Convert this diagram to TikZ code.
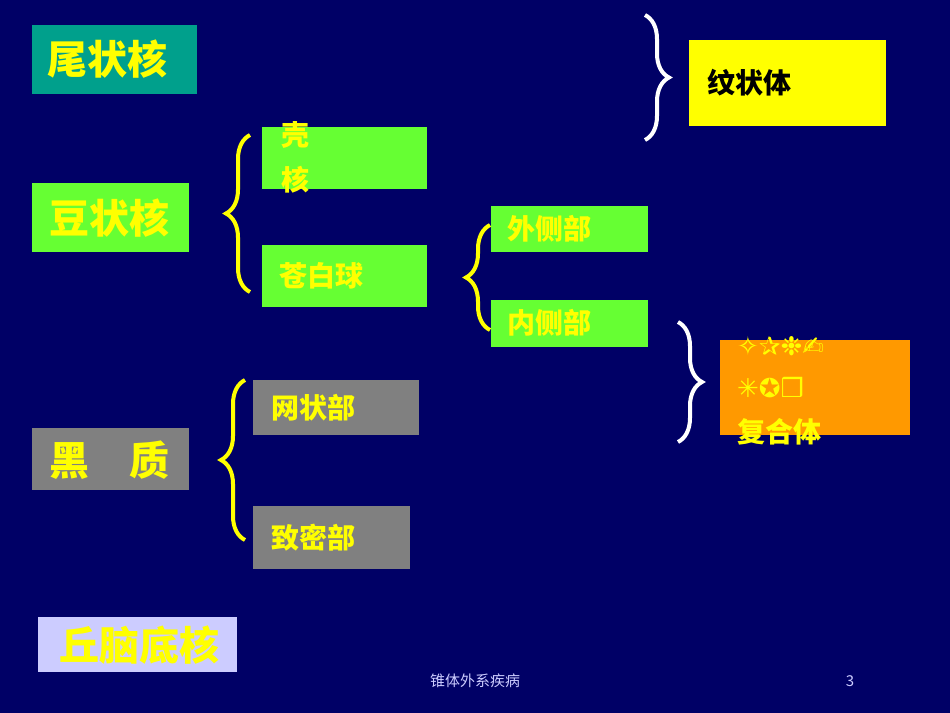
\documentclass[tikz,border=0pt]{standalone}
\usepackage{fontspec}
\setmainfont{Noto Sans CJK SC}
\newfontfamily\symfont{DejaVu Sans}
\usetikzlibrary{decorations.pathreplacing}
\definecolor{navy}{RGB}{0,0,102}
\definecolor{boxgreen}{RGB}{102,255,51}
\definecolor{boxteal}{RGB}{0,160,140}
\definecolor{boxgrey}{RGB}{128,128,128}
\definecolor{boxlav}{RGB}{204,204,255}
\definecolor{boxorange}{RGB}{255,153,0}
\definecolor{txtyellow}{RGB}{255,255,0}
\tikzset{
  cell/.style={anchor=north west, inner sep=0pt},
  big/.style={font=\fontsize{20}{22}\selectfont\bfseries, text=txtyellow},
  small/.style={font=\fontsize{14}{16}\selectfont\bfseries, text=txtyellow},
  ybrace/.style={draw=txtyellow, line width=2pt, decorate,
    decoration={brace, amplitude=12pt}},
  wbrace/.style={draw=white, line width=2pt, decorate,
    decoration={brace, amplitude=12pt}}
}
\begin{document}
\begin{tikzpicture}[x=0.5pt, y=-0.5pt]
\fill[navy] (0,0) rectangle (950,713);
\useasboundingbox (0,0) rectangle (950,713);
% boxes
\fill[boxteal] (32,25) rectangle (197,94);
\fill[txtyellow] (689,40) rectangle (886,126);
\fill[boxgreen] (32,183) rectangle (189,252);
\fill[boxgreen] (262,127) rectangle (427,189);
\fill[boxgreen] (262,245) rectangle (427,307);
\fill[boxgreen] (491,206) rectangle (648,252);
\fill[boxgreen] (491,300) rectangle (648,347);
\fill[boxorange] (720,340) rectangle (910,435);
\fill[boxgrey] (32,428) rectangle (189,490);
\fill[boxgrey] (253,380) rectangle (419,435);
\fill[boxgrey] (253,506) rectangle (410,569);
\fill[boxlav] (38,617) rectangle (237,672);
% labels
\node[big, anchor=west] (caudate) at (40,59) {尾状核};
\node[small, text=black, anchor=west] (striatum) at (700,83) {纹状体};
\node[big, anchor=west] (lentiform) at (42,218) {豆状核};
\node[small, anchor=west] (putamen1) at (274,135) {壳};
\node[small, anchor=west] (putamen2) at (274,180) {核};
\node[small, anchor=west] (pallidus) at (272,276) {苍白球};
\node[small, anchor=west] (lateral) at (500,229) {外侧部};
\node[small, anchor=west] (medial) at (500,323) {内侧部};
\node[small, anchor=west] (reticular) at (264,408) {网状部};
\node[small, anchor=west] (compact) at (264,538) {致密部};
\node[big, anchor=west] (nigra) at (42,460) {黑\hspace{1em}质};
\node[big, anchor=west] (subthal) at (52,645) {丘脑底核};
\node[small, anchor=west, font=\fontsize{13}{15}\selectfont\symfont] (sym1) at (730,346) {✧✰❉✍};
\node[small, anchor=west, font=\fontsize{13}{15}\selectfont\symfont] (sym2) at (730,388) {✳✪❒};
\node[small, anchor=west] (complex) at (730,432) {复合体};
\node[text=boxlav, font=\fontsize{7.5}{9}\selectfont] (footer) at (475,681) {锥体外系疾病};
\node[text=boxlav, font=\fontsize{7.5}{9}\selectfont] (page) at (850,681) {3};
% braces
\draw[ybrace] (250,292) -- (250,135);
\draw[ybrace] (490,330) -- (490,225);
\draw[ybrace] (245,540) -- (245,380);
\draw[wbrace] (645,15) -- (645,140);
\draw[wbrace] (678,322) -- (678,442);
\end{tikzpicture}
\end{document}
